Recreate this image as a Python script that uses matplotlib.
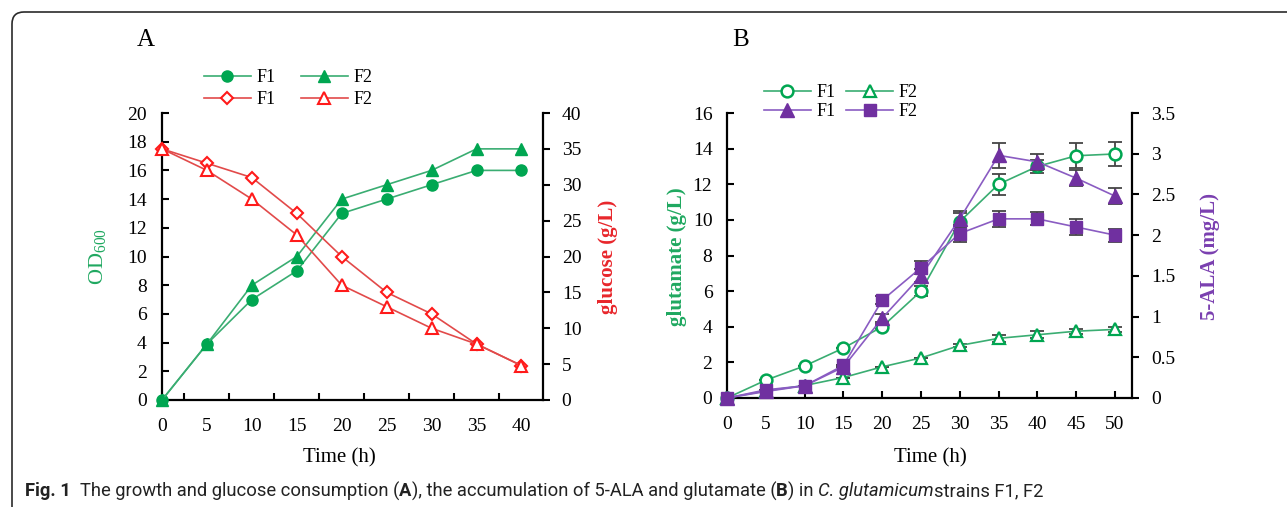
import matplotlib
matplotlib.use('Agg')
import matplotlib.pyplot as plt
from matplotlib.patches import FancyBboxPatch
from matplotlib.transforms import IdentityTransform

plt.rcParams['font.family'] = ['Liberation Serif', 'DejaVu Serif']
plt.rcParams['mathtext.fontset'] = 'custom'
plt.rcParams['mathtext.rm'] = 'Liberation Serif'
plt.rcParams['mathtext.it'] = 'Liberation Serif:italic'
plt.rcParams['mathtext.bf'] = 'Liberation Serif:bold'

# ---------------- data ----------------
time_a = [0, 5, 10, 15, 20, 25, 30, 35, 40]
od_f1 = [0, 3.9, 7, 9, 13, 14, 15, 16, 16]
od_f2 = [0, 3.9, 8, 10, 14, 15, 16, 17.5, 17.5]
glc_f1 = [35, 33, 31, 26, 20, 15, 12, 7.8, 4.8]
glc_f2 = [35, 32, 28, 23, 16, 13, 10, 7.8, 4.8]

time_b = [0, 5, 10, 15, 20, 25, 30, 35, 40, 45, 50]
glu_f1 = [0, 1.0, 1.8, 2.8, 4.0, 6.0, 9.9, 12.0, 13.0, 13.6, 13.7]
glu_f1_err = [0, 0, 0, 0, 0.15, 0.3, 0.5, 0.6, 0.35, 0.7, 0.65]
glu_f2 = [0, 0.4, 0.7, 1.15, 1.75, 2.25, 2.95, 3.35, 3.55, 3.75, 3.85]
glu_f2_err = [0, 0, 0, 0, 0, 0, 0.1, 0.2, 0.2, 0.15, 0.15]
ala_f1 = [0, 0.08, 0.15, 0.38, 0.98, 1.5, 2.2, 2.98, 2.9, 2.7, 2.48]
ala_f1_err = [0, 0, 0, 0, 0.05, 0.08, 0.1, 0.15, 0.1, 0.1, 0.1]
ala_f2 = [0, 0.1, 0.15, 0.4, 1.2, 1.6, 2.02, 2.2, 2.2, 2.1, 2.0]
ala_f2_err = [0, 0, 0, 0, 0.05, 0.08, 0.1, 0.1, 0.08, 0.1, 0.08]

a_xticks = [0, 5, 10, 15, 20, 25, 30, 35, 40]
a_minor = [2.5, 7.5, 12.5, 17.5, 22.5, 27.5, 32.5, 37.5]
b_xticks = [0, 5, 10, 15, 20, 25, 30, 35, 40, 45, 50]

# ---------------- style ----------------
W, H = 1287, 507
fig = plt.figure(figsize=(W / 100, H / 100), dpi=100)

G_LINE, G_MK = '#3aad72', '#00a651'
R_LINE, R_MK = '#e24a4a', '#ff1a1a'
P_LINE, P_MK = '#8a5cc2', '#7030a0'
ERR = '#454545'
TICK_FS = 14
LW = 1.2
MS = 8


def fx(px):
    return px / W


def fy(py):
    return 1 - py / H


def style_axes(ax, left=True):
    ax.spines['top'].set_visible(False)
    ax.spines['right'].set_visible(not left)
    ax.spines['left'].set_visible(left)
    ax.spines['bottom'].set_visible(left)
    for s in ax.spines.values():
        s.set_linewidth(1.6)
        s.set_color('black')


# ---------------- Panel A ----------------
axA = fig.add_axes([fx(162), fy(400), fx(543 - 162), (400 - 113) / H])
axA2 = axA.twinx()
style_axes(axA, True)
style_axes(axA2, False)

hA1, = axA.plot(time_a, od_f1, color=G_LINE, lw=LW, marker='o', ms=MS,
                mfc=G_MK, mec=G_MK, clip_on=False, zorder=3)
hA2, = axA.plot(time_a, od_f2, color=G_LINE, lw=LW, marker='^', ms=MS + 0.5,
                mfc=G_MK, mec=G_MK, clip_on=False, zorder=3)
hA3, = axA2.plot(time_a, glc_f1, color=R_LINE, lw=LW, marker='D', ms=MS - 1.5,
                 mfc='white', mec=R_MK, mew=1.5, clip_on=False, zorder=3)
hA4, = axA2.plot(time_a, glc_f2, color=R_LINE, lw=LW, marker='^', ms=MS + 0.5,
                 mfc='white', mec=R_MK, mew=1.5, clip_on=False, zorder=3)

axA.set_xlim(0, 42.4)
axA.set_ylim(0, 20)
axA2.set_ylim(0, 40)
axA.set_yticks(range(0, 21, 2))
axA2.set_yticks(range(0, 41, 5))
axA.set_xticks(a_xticks)
axA.set_xticks(a_minor, minor=True)
axA.tick_params(axis='x', which='major', length=0, pad=13, labelsize=TICK_FS)
axA.tick_params(axis='x', which='minor', direction='in', length=5, width=1.5)
axA.tick_params(axis='y', direction='in', length=5, width=1.5, pad=11,
                labelsize=TICK_FS)
axA2.tick_params(axis='y', direction='out', length=5, width=1.5, pad=8.5,
                 labelsize=TICK_FS)

legA = axA.legend([hA1, hA3, hA2, hA4], ['F1', 'F1', 'F2', 'F2'], ncol=2,
                  loc='upper left', bbox_to_anchor=(fx(204), fy(69)),
                  bbox_transform=fig.transFigure, frameon=False, fontsize=13,
                  handlelength=2.6, handletextpad=0.3, columnspacing=1.4,
                  labelspacing=0.3, borderpad=0, borderaxespad=0)

# ---------------- Panel B ----------------
axB = fig.add_axes([fx(727), fy(398), fx(1132 - 727), (398 - 113) / H])
axB2 = axB.twinx()
style_axes(axB, True)
style_axes(axB2, False)

ekw = dict(ecolor=ERR, elinewidth=1.3, capsize=5, capthick=1.3)
axB.errorbar(time_b, glu_f1, yerr=glu_f1_err, fmt='none', zorder=2, **ekw)
axB.errorbar(time_b, glu_f2, yerr=glu_f2_err, fmt='none', zorder=2, **ekw)
hB1, = axB.plot(time_b, glu_f1, color=G_LINE, lw=LW, marker='o', ms=MS + 0.5,
                mfc='white', mec=G_MK, mew=1.8, clip_on=False, zorder=3)
hB2, = axB.plot(time_b, glu_f2, color=G_LINE, lw=LW, marker='^', ms=MS + 0.5,
                mfc='white', mec=G_MK, mew=1.6, clip_on=False, zorder=3)
axB2.errorbar(time_b, ala_f1, yerr=ala_f1_err, fmt='none', zorder=2, **ekw)
axB2.errorbar(time_b, ala_f2, yerr=ala_f2_err, fmt='none', zorder=2, **ekw)
hB3, = axB2.plot(time_b, ala_f1, color=P_LINE, lw=LW, marker='^', ms=MS + 2,
                 mfc=P_MK, mec=P_MK, clip_on=False, zorder=3)
hB4, = axB2.plot(time_b, ala_f2, color=P_LINE, lw=LW, marker='s', ms=MS + 0.5,
                 mfc=P_MK, mec=P_MK, clip_on=False, zorder=3)

axB.set_xlim(0, 52.2)
axB.set_ylim(0, 16)
axB2.set_ylim(0, 3.5)
axB.set_yticks(range(0, 17, 2))
axB2.set_yticks([0, 0.5, 1, 1.5, 2, 2.5, 3, 3.5])
axB2.set_yticklabels(['0', '0.5', '1', '1.5', '2', '2.5', '3', '3.5'])
axB.set_xticks(b_xticks)
axB.tick_params(axis='x', direction='in', length=5, width=1.5, pad=13,
                labelsize=TICK_FS)
axB.tick_params(axis='y', direction='in', length=5, width=1.5, pad=10.5,
                labelsize=TICK_FS)
axB2.tick_params(axis='y', direction='out', length=5, width=1.5, pad=8.5,
                 labelsize=TICK_FS)

legB = axB.legend([hB1, hB3, hB2, hB4], ['F1', 'F1', 'F2', 'F2'], ncol=2,
                  loc='upper left', bbox_to_anchor=(fx(764), fy(84)),
                  bbox_transform=fig.transFigure, frameon=False, fontsize=13,
                  handlelength=2.6, handletextpad=0.3, columnspacing=0.6,
                  labelspacing=0.12, borderpad=0, borderaxespad=0)

# ---------------- labels ----------------
fig.text(fx(146), fy(40), 'A', fontsize=18, ha='center', va='center')
fig.text(fx(741), fy(40), 'B', fontsize=18, ha='center', va='center')
fig.text(fx(97), fy(257), r'OD$_{600}$', color='#1fa860', fontsize=16,
         rotation=90, ha='center', va='center')
fig.text(fx(608), fy(257), 'glucose (g/L)', color='#e8262b', fontsize=15,
         fontweight='bold', rotation=90, ha='center', va='center')
fig.text(fx(677), fy(257), 'glutamate (g/L)', color='#1fa860', fontsize=15,
         fontweight='bold', rotation=90, ha='center', va='center')
fig.text(fx(1210), fy(256), '5-ALA (mg/L)', color='#7a3fb0', fontsize=15,
         fontweight='bold', rotation=90, ha='center', va='center')
fig.text(fx(339), fy(458), 'Time (h)', fontsize=15, ha='center', va='center')
fig.text(fx(930), fy(458), 'Time (h)', fontsize=15, ha='center', va='center')

# ---------------- caption ----------------
cap_family = ['Roboto', 'DejaVu Sans']
pieces = [
    ('Fig. 1', dict(fontweight='bold')),
    ('  The growth and glucose consumption (', {}),
    ('A', dict(fontweight='bold')),
    ('), the accumulation of 5-ALA and glutamate (', {}),
    ('B', dict(fontweight='bold')),
    (') in ', {}),
    ('C. glutamicum', dict(fontstyle='italic')),
    ('strains F1, F2', {}),
]
renderer = fig.canvas.get_renderer()
xpos = 25
for txt, kw in pieces:
    t = fig.text(fx(xpos), fy(491), txt, fontsize=13.2, family=cap_family,
                 ha='left', va='center', color='#222222', **kw)
    xpos += t.get_window_extent(renderer).width

# ---------------- frame ----------------
box = FancyBboxPatch((12, -60), W + 100, H - 12 + 60,
                     boxstyle='round,pad=0,rounding_size=12',
                     transform=IdentityTransform(), fill=False,
                     edgecolor='#2a2a2a', lw=1.2, clip_on=False)
fig.patches.append(box)

fig.savefig('out.png', dpi=100)
